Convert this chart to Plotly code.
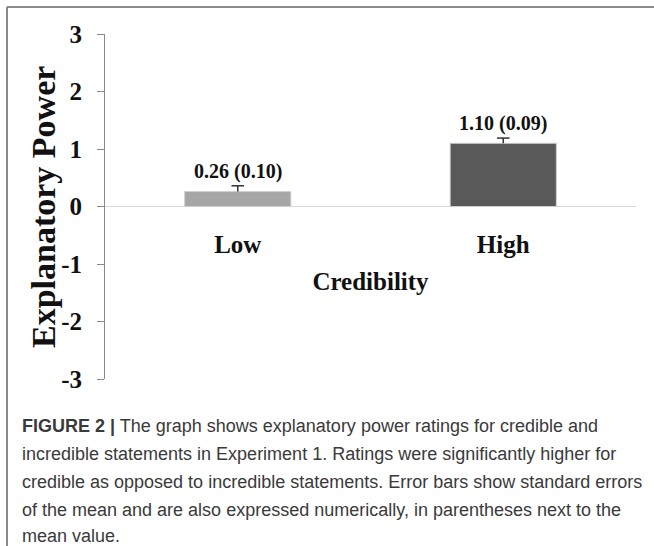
import plotly.graph_objects as go

# ---- data ----
categories = ["Low", "High"]
means = [0.26, 1.10]
std_errors = [0.10, 0.09]
value_labels = ["0.26 (0.10)", "1.10 (0.09)"]
bar_colors = ["#a6a6a6", "#595959"]
y_ticks = [-3, -2, -1, 0, 1, 2, 3]
y_tick_labels = ["-3", "-2", "-1", "0", "1", "2", "3"]
x_title = "Credibility"
y_title = "Explanatory Power"
caption_lines = [
    "<b>FIGURE 2 |</b> The graph shows explanatory power ratings for credible and",
    "incredible statements in Experiment 1. Ratings were significantly higher for",
    "credible as opposed to incredible statements. Error bars show standard errors",
    "of the mean and are also expressed numerically, in parentheses next to the",
    "mean value.",
]

W, H = 654, 546
SERIF = "Liberation Serif, Times New Roman, serif"
SANS = "Liberation Sans, Arial, Helvetica, sans-serif"

def px_x(x):
    return x / W

def px_y(y):
    return (H - y) / H

tops = [m + s for m, s in zip(means, std_errors)]

fig = go.Figure()
fig.add_trace(go.Bar(
    x=categories,
    y=means,
    width=0.4,
    marker=dict(color=bar_colors, line=dict(color="#d0d0d0", width=1)),
    error_y=dict(type="data", symmetric=False, array=std_errors,
                 arrayminus=[0] * len(std_errors),
                 color="#333333", thickness=1.5, width=0),
    showlegend=False,
    hoverinfo="skip",
))
# error-bar caps (top only)
fig.add_trace(go.Scatter(
    x=categories, y=tops, mode="markers",
    marker=dict(symbol="line-ew", size=9,
                line=dict(color="#333333", width=1.5)),
    showlegend=False, hoverinfo="skip",
))

annotations = []
for c, t, lab in zip(categories, tops, value_labels):
    annotations.append(dict(
        x=c, y=t, xref="x", yref="y", text=lab, showarrow=False,
        yanchor="bottom", yshift=1,
        font=dict(family=SERIF, size=20, color="#111111", weight="bold"),
    ))

# y-axis title
annotations.append(dict(
    x=px_x(43), y=px_y(207), xref="paper", yref="paper", text=y_title,
    showarrow=False, textangle=-90, xanchor="center", yanchor="middle",
    font=dict(family=SERIF, size=34, color="#111111", weight="bold"),
))

caption_y = [426, 454, 482, 510, 536]
for line, yc in zip(caption_lines, caption_y):
    annotations.append(dict(
        x=px_x(20), y=px_y(yc), xref="paper", yref="paper", text=line,
        showarrow=False, xanchor="left", yanchor="middle",
        font=dict(family=SANS, size=18, color="#3a3a3a"),
    ))

shapes = [
    dict(type="line", xref="paper", yref="paper",
         x0=px_x(7), x1=px_x(654), y0=px_y(7), y1=px_y(7),
         line=dict(color="#8a8a8a", width=2)),
    dict(type="line", xref="paper", yref="paper",
         x0=px_x(7), x1=px_x(7), y0=px_y(7), y1=px_y(546),
         line=dict(color="#8a8a8a", width=2)),
]

fig.update_layout(
    width=W, height=H, autosize=False,
    margin=dict(l=0, r=0, t=0, b=0, autoexpand=False),
    paper_bgcolor="white", plot_bgcolor="white",
    annotations=annotations, shapes=shapes,
    xaxis=dict(
        domain=[px_x(105), px_x(636)],
        anchor="free", position=px_y(207),
        automargin=False,
        showline=False, ticks="", showgrid=False, zeroline=False,
        tickfont=dict(family=SERIF, size=25, color="#111111", weight="bold"),
        ticklabelstandoff=20,
        title=dict(text=x_title, standoff=15,
                   font=dict(family=SERIF, size=25, color="#111111", weight="bold")),
    ),
    yaxis=dict(
        domain=[px_y(379), px_y(34)],
        range=[-3, 3],
        automargin=False,
        tickvals=y_ticks, ticktext=y_tick_labels,
        showline=True, linecolor="#8a8a8a", linewidth=1,
        ticks="outside", ticklen=7, tickcolor="#8a8a8a", tickwidth=1,
        showgrid=False,
        zeroline=True, zerolinecolor="#d9d9d9", zerolinewidth=1,
        tickfont=dict(family=SERIF, size=25, color="#111111", weight="bold"),
        ticklabelstandoff=10,
    ),
)

fig.write_html(
    "out.html",
    config={"displayModeBar": False},
    post_script="document.body.style.margin='0px';document.body.style.overflow='hidden';",
)
